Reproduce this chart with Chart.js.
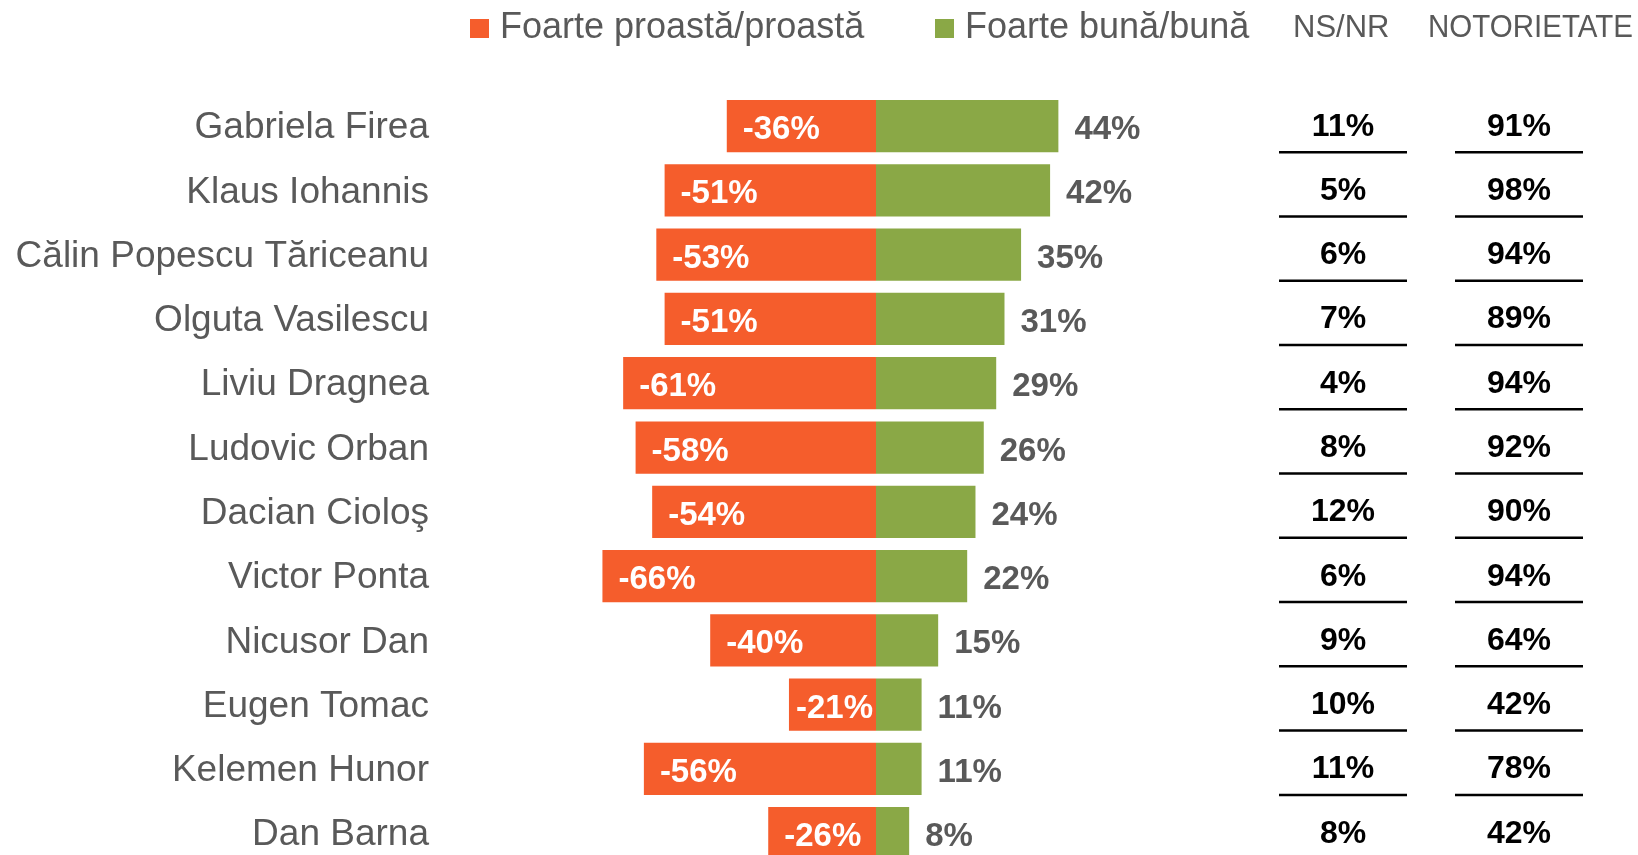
<!DOCTYPE html>
<html>
<head>
<meta charset="utf-8">
<script src="https://cdn.jsdelivr.net/npm/chart.js@4"></script>
<style>
  html, body { margin: 0; padding: 0; background: #fff; overflow: hidden; }
  canvas { display: block; }
</style>
</head>
<body>
<!-- canvas runs past the window: the last row is cut off in the original too -->
<canvas id="myChart" width="1638" height="920"></canvas>
<script>
// data
const names = ['Gabriela Firea', 'Klaus Iohannis', 'Călin Popescu Tăriceanu', 'Olguta Vasilescu',
  'Liviu Dragnea', 'Ludovic Orban', 'Dacian Cioloş', 'Victor Ponta', 'Nicusor Dan',
  'Eugen Tomac', 'Kelemen Hunor', 'Dan Barna'];
const bad = [36, 51, 53, 51, 61, 58, 54, 66, 40, 21, 56, 26];
const good = [44, 42, 35, 31, 29, 26, 24, 22, 15, 11, 11, 8];
const nsnr = [11, 5, 6, 7, 4, 8, 12, 6, 9, 10, 11, 8];
const notorietate = [91, 98, 94, 89, 94, 92, 90, 94, 64, 42, 78, 42];
const columnTitles = ['NS/NR', 'NOTORIETATE'];

const ORANGE = '#F55D2C';
const GREEN = '#8AA846';
const GREY = '#595959';

// bar value labels
const barLabels = {
  id: 'barLabels',
  afterDatasetsDraw(chart) {
    const ctx = chart.ctx;
    ctx.save();
    ctx.font = 'bold 33px "Liberation Sans", Arial, sans-serif';
    ctx.textAlign = 'left';
    ctx.textBaseline = 'alphabetic';
    chart.data.datasets.forEach((ds, di) => {
      const meta = chart.getDatasetMeta(di);
      meta.data.forEach((bar, i) => {
        const v = ds.data[i];
        const txt = v + '%';
        const w = ctx.measureText(txt).width;
        let x;
        if (v < 0) {
          ctx.fillStyle = '#fff';
          x = Math.min(bar.x + 16, bar.base - w - 3);
        } else {
          ctx.fillStyle = GREY;
          x = bar.x + 16;
        }
        ctx.fillText(txt, x, bar.y + 13);
      });
    });
    ctx.restore();
  }
};

// legend + the two side columns
const sideTable = {
  id: 'sideTable',
  afterDraw(chart) {
    const ctx = chart.ctx;
    const yScale = chart.scales.y;
    ctx.save();

    // legend
    const legendX = [470, 935];
    ctx.font = '36px "Liberation Sans", Arial, sans-serif';
    ctx.textBaseline = 'alphabetic';
    ctx.textAlign = 'left';
    chart.data.datasets.forEach((ds, di) => {
      ctx.fillStyle = ds.backgroundColor;
      ctx.fillRect(legendX[di], 19, 19, 19);
      ctx.fillStyle = GREY;
      ctx.fillText(ds.label, legendX[di] + 30, 38);
    });

    // column headers
    ctx.font = '31px "Liberation Sans", Arial, sans-serif';
    ctx.fillText(columnTitles[0], 1293, 37, 97);
    ctx.fillText(columnTitles[1], 1428, 37, 205);

    // column values
    const cols = [{ cx: 1343, x0: 1279, x1: 1407, vals: nsnr },
                  { cx: 1519, x0: 1455, x1: 1583, vals: notorietate }];
    ctx.font = 'bold 32px "Liberation Sans", Arial, sans-serif';
    ctx.textAlign = 'center';
    ctx.fillStyle = '#000';
    ctx.strokeStyle = '#000';
    ctx.lineWidth = 2.5;
    names.forEach((n, i) => {
      const y = yScale.getPixelForValue(i);
      cols.forEach(c => {
        ctx.fillText(c.vals[i] + '%', c.cx, y + 9.5);
        ctx.beginPath();
        ctx.moveTo(c.x0, y + 26);
        ctx.lineTo(c.x1, y + 26);
        ctx.stroke();
      });
    });
    ctx.restore();
  }
};

new Chart('myChart', {
  type: 'bar',
  data: {
    labels: names,
    datasets: [{
      label: 'Foarte proastă/proastă',
      data: bad.map(v => -v),
      backgroundColor: ORANGE
    }, {
      label: 'Foarte bună/bună',
      data: good,
      backgroundColor: GREEN
    }]
  },
  options: {
    indexAxis: 'y',
    responsive: false,
    animation: false,
    barPercentage: 0.813,
    categoryPercentage: 1,
    layout: { padding: { top: 94, left: 12, right: 347.5, bottom: 0 } },
    scales: {
      x: { min: -100, max: 100, stacked: true, display: false },
      y: {
        stacked: true,
        grid: { display: false, drawTicks: false },
        border: { display: false },
        ticks: {
          padding: 32.5,
          labelOffset: 2,
          color: GREY,
          font: { family: '"Liberation Sans", Arial, sans-serif', size: 37 }
        },
        afterFit(scale) { scale.width = 449.5; }
      }
    },
    plugins: {
      legend: { display: false },
      tooltip: { enabled: false }
    }
  },
  plugins: [barLabels, sideTable]
});
</script>
</body>
</html>
